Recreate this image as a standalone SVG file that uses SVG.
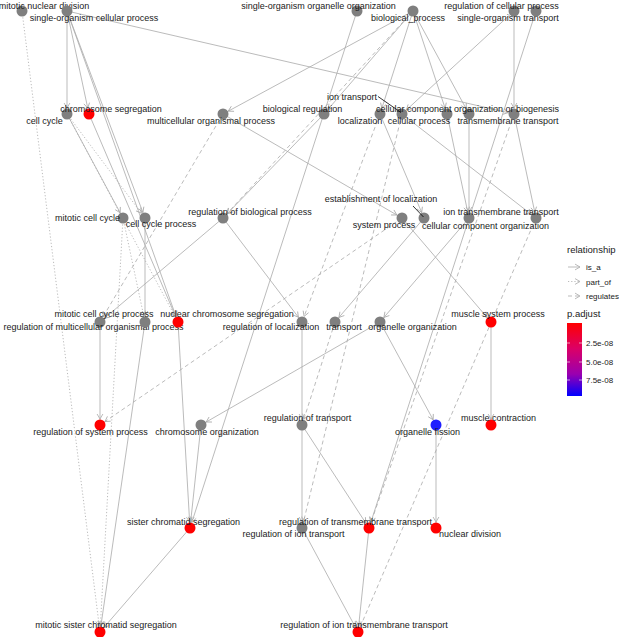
<svg xmlns="http://www.w3.org/2000/svg" width="619" height="637" viewBox="0 0 619 637">
<style>
  .e{fill:none;stroke:#a9a9a9;stroke-width:0.8;marker-end:url(#arr)}
  .p{stroke-dasharray:1.2 2}
  .r{stroke-dasharray:4 3}
  .g{fill:#7f7f7f}
  .red{fill:#ff0000}
  .blue{fill:#1e1eff}
  text{font-family:"Liberation Sans",Arial,sans-serif;font-size:9px;fill:#1a1a1a}
  .m{text-anchor:middle}
  .seg{stroke:#000;stroke-width:0.8}
  .lg{font-size:8px}
</style>
<defs>
  <marker id="arr" markerUnits="userSpaceOnUse" viewBox="-1 -1 14 8" markerWidth="14" markerHeight="8" refX="11" refY="2.9" orient="auto" overflow="visible">
    <path d="M0,0 L5,2.9 L0,5.8" fill="none" stroke="#a9a9a9" stroke-width="0.8"/>
  </marker>
  <marker id="arrL" markerUnits="userSpaceOnUse" viewBox="-1 -1 8 8" markerWidth="8" markerHeight="8" refX="5" refY="2.9" orient="auto" overflow="visible">
    <path d="M0,0 L5,2.9 L0,5.8" fill="none" stroke="#a9a9a9" stroke-width="0.8"/>
  </marker>
  <linearGradient id="pg" x1="0" y1="0" x2="0" y2="1">
    <stop offset="0" stop-color="#ff0000"/>
    <stop offset="0.35" stop-color="#dc0066"/>
    <stop offset="0.7" stop-color="#9a00b0"/>
    <stop offset="1" stop-color="#0000ff"/>
  </linearGradient>
</defs>
<rect width="619" height="637" fill="#ffffff"/>
<g id="edges">
  <line class="e p" x1="22" y1="11" x2="100" y2="632"/>
  <line class="e" x1="67" y1="11" x2="67" y2="114"/>
  <line class="e" x1="67" y1="11" x2="89" y2="114"/>
  <line class="e" x1="67" y1="11" x2="514" y2="114"/>
  <line class="e" x1="67" y1="11" x2="145" y2="218"/>
  <line class="e" x1="67" y1="11" x2="178" y2="322"/>
  <line class="e" x1="357" y1="11" x2="190" y2="528"/>
  <line class="e" x1="413" y1="11" x2="223" y2="114"/>
  <line class="e" x1="413" y1="11" x2="324" y2="114"/>
  <line class="e" x1="413" y1="11" x2="380" y2="114"/>
  <line class="e" x1="413" y1="11" x2="447" y2="114"/>
  <line class="e" x1="413" y1="11" x2="469" y2="114"/>
  <line class="e r" x1="413" y1="11" x2="223" y2="218"/>
  <line class="e" x1="536" y1="11" x2="369" y2="528"/>
  <line class="e" x1="514" y1="11" x2="514" y2="114"/>
  <line class="e" x1="514" y1="11" x2="402" y2="114"/>
  <line class="e" x1="67" y1="114" x2="123" y2="218"/>
  <line class="e p" x1="67" y1="114" x2="145" y2="218"/>
  <line class="e p" x1="67" y1="114" x2="178" y2="322"/>
  <line class="e" x1="89" y1="114" x2="178" y2="322"/>
  <line class="e" x1="223" y1="114" x2="402" y2="218"/>
  <line class="e r" x1="223" y1="114" x2="100" y2="322"/>
  <line class="e" x1="324" y1="114" x2="223" y2="218"/>
  <line class="e" x1="380" y1="114" x2="424" y2="218"/>
  <line class="e r" x1="380" y1="114" x2="302" y2="322"/>
  <line class="e" x1="402" y1="114" x2="536" y2="218"/>
  <line class="e r" x1="402" y1="114" x2="302" y2="528"/>
  <line class="e" x1="447" y1="114" x2="469" y2="218"/>
  <line class="e" x1="469" y1="114" x2="469" y2="218"/>
  <line class="e" x1="514" y1="114" x2="536" y2="218"/>
  <line class="e r" x1="514" y1="114" x2="369" y2="528"/>
  <line class="e p" x1="123" y1="218" x2="145" y2="322"/>
  <line class="e p" x1="123" y1="218" x2="100" y2="632"/>
  <line class="e" x1="145" y1="218" x2="145" y2="322"/>
  <line class="e" x1="223" y1="218" x2="100" y2="322"/>
  <line class="e" x1="223" y1="218" x2="302" y2="322"/>
  <line class="e" x1="424" y1="218" x2="335" y2="322"/>
  <line class="e" x1="402" y1="218" x2="491" y2="322"/>
  <line class="e r" x1="402" y1="218" x2="100" y2="425"/>
  <line class="e" x1="469" y1="218" x2="380" y2="322"/>
  <line class="e r" x1="536" y1="218" x2="358" y2="632"/>
  <line class="e" x1="100" y1="322" x2="100" y2="425"/>
  <line class="e" x1="145" y1="322" x2="100" y2="632"/>
  <line class="e" x1="178" y1="322" x2="190" y2="528"/>
  <line class="e" x1="302" y1="322" x2="302" y2="425"/>
  <line class="e r" x1="335" y1="322" x2="302" y2="425"/>
  <line class="e" x1="380" y1="322" x2="201" y2="425"/>
  <line class="e" x1="380" y1="322" x2="436" y2="425"/>
  <line class="e" x1="491" y1="322" x2="491" y2="425"/>
  <line class="e" x1="201" y1="425" x2="190" y2="528"/>
  <line class="e" x1="302" y1="425" x2="302" y2="528"/>
  <line class="e" x1="302" y1="425" x2="369" y2="528"/>
  <line class="e" x1="436" y1="425" x2="436" y2="528"/>
  <line class="e" x1="190" y1="528" x2="100" y2="632"/>
  <line class="e" x1="302" y1="528" x2="358" y2="632"/>
  <line class="e" x1="369" y1="528" x2="358" y2="632"/>
</g>
<g id="n-mitotic-nuclear-division"><circle class="g" cx="22" cy="11" r="5.5"/><text class="m" x="44" y="8.5">mitotic nuclear division</text></g>
<g id="n-single-organism-cellular-process"><circle class="g" cx="67" cy="11" r="5.5"/><text class="m" x="94" y="20.5">single-organism cellular process</text></g>
<g id="n-single-organism-organelle-organization"><circle class="g" cx="357" cy="11" r="5.5"/><text class="m" x="318.5" y="8.5">single-organism organelle organization</text></g>
<g id="n-biological-process"><circle class="g" cx="413" cy="11" r="5.5"/><text class="m" x="408" y="20.5">biological_process</text></g>
<g id="n-single-organism-transport"><circle class="g" cx="514" cy="11" r="5.5"/><text class="m" x="508" y="20.5">single-organism transport</text></g>
<g id="n-regulation-of-cellular-process"><circle class="g" cx="536" cy="11" r="5.5"/><text class="m" x="501.5" y="8.5">regulation of cellular process</text></g>
<g id="n-cell-cycle"><circle class="g" cx="67" cy="114" r="5.5"/><text class="m" x="44.5" y="123.5">cell cycle</text></g>
<g id="n-chromosome-segregation"><circle class="red" cx="89" cy="114" r="5.5"/><text class="m" x="111" y="111.5">chromosome segregation</text></g>
<g id="n-multicellular-organismal-process"><circle class="g" cx="223" cy="114" r="5.5"/><text class="m" x="211" y="123.5">multicellular organismal process</text></g>
<g id="n-biological-regulation"><circle class="g" cx="324" cy="114" r="5.5"/><text class="m" x="302.5" y="111.5">biological regulation</text></g>
<g id="n-localization"><circle class="g" cx="380" cy="114" r="5.5"/><text class="m" x="360" y="123.5">localization</text></g>
<g id="n-ion-transport"><circle class="g" cx="402" cy="114" r="5.5"/><line class="seg" x1="378" y1="96.5" x2="401" y2="112.5"/><text class="m" x="352" y="99.5">ion transport</text></g>
<g id="n-cellular-process"><circle class="g" cx="447" cy="114" r="5.5"/><text class="m" x="419" y="123.5">cellular process</text></g>
<g id="n-transmembrane-transport"><circle class="g" cx="514" cy="114" r="5.5"/><text class="m" x="508" y="123.5">transmembrane transport</text></g>
<g id="n-cellular-component-organization-or-biogenesis"><circle class="g" cx="469" cy="114" r="5.5"/><text class="m" x="467.5" y="111.5">cellular component organization or biogenesis</text></g>
<g id="n-mitotic-cell-cycle"><circle class="g" cx="123" cy="218" r="5.5"/><text class="m" x="87.5" y="220.5">mitotic cell cycle</text></g>
<g id="n-cell-cycle-process"><circle class="g" cx="145" cy="218" r="5.5"/><text class="m" x="161" y="227">cell cycle process</text></g>
<g id="n-regulation-of-biological-process"><circle class="g" cx="223" cy="218" r="5.5"/><text class="m" x="250" y="215">regulation of biological process</text></g>
<g id="n-system-process"><circle class="g" cx="402" cy="218" r="5.5"/><text class="m" x="384" y="228">system process</text></g>
<g id="n-establishment-of-localization"><circle class="g" cx="424" cy="218" r="5.5"/><line class="seg" x1="413" y1="206" x2="423.5" y2="217"/><text class="m" x="381" y="202">establishment of localization</text></g>
<g id="n-cellular-component-organization"><circle class="g" cx="469" cy="218" r="5.5"/><text class="m" x="485.5" y="229">cellular component organization</text></g>
<g id="n-ion-transmembrane-transport"><circle class="g" cx="536" cy="218" r="5.5"/><text class="m" x="501" y="215">ion transmembrane transport</text></g>
<g id="n-regulation-of-multicellular-organismal-process"><circle class="g" cx="100" cy="322" r="5.5"/><text class="m" x="93.5" y="329.5">regulation of multicellular organismal process</text></g>
<g id="n-mitotic-cell-cycle-process"><circle class="g" cx="145" cy="322" r="5.5"/><text class="m" x="104" y="317">mitotic cell cycle process</text></g>
<g id="n-nuclear-chromosome-segregation"><circle class="red" cx="178" cy="322" r="5.5"/><text class="m" x="227" y="317">nuclear chromosome segregation</text></g>
<g id="n-regulation-of-localization"><circle class="g" cx="302" cy="322" r="5.5"/><text class="m" x="271" y="329.5">regulation of localization</text></g>
<g id="n-transport"><circle class="g" cx="335" cy="322" r="5.5"/><text class="m" x="344" y="329.5">transport</text></g>
<g id="n-organelle-organization"><circle class="g" cx="380" cy="322" r="5.5"/><text class="m" x="412.5" y="329.5">organelle organization</text></g>
<g id="n-muscle-system-process"><circle class="red" cx="491" cy="322" r="5.5"/><text class="m" x="498" y="317">muscle system process</text></g>
<g id="n-regulation-of-system-process"><circle class="red" cx="100" cy="425" r="5.5"/><text class="m" x="90.5" y="435">regulation of system process</text></g>
<g id="n-chromosome-organization"><circle class="g" cx="201" cy="425" r="5.5"/><text class="m" x="207" y="435">chromosome organization</text></g>
<g id="n-regulation-of-transport"><circle class="g" cx="302" cy="425" r="5.5"/><text class="m" x="307.5" y="421">regulation of transport</text></g>
<g id="n-organelle-fission"><circle class="blue" cx="436" cy="425" r="5.5"/><text class="m" x="427.5" y="435">organelle fission</text></g>
<g id="n-muscle-contraction"><circle class="red" cx="491" cy="425" r="5.5"/><text class="m" x="498.5" y="421">muscle contraction</text></g>
<g id="n-sister-chromatid-segregation"><circle class="red" cx="190" cy="528" r="5.5"/><text class="m" x="183.5" y="525">sister chromatid segregation</text></g>
<g id="n-regulation-of-ion-transport"><circle class="g" cx="302" cy="528" r="5.5"/><text class="m" x="293.5" y="537">regulation of ion transport</text></g>
<g id="n-regulation-of-transmembrane-transport"><circle class="red" cx="369" cy="528" r="5.5"/><text class="m" x="355.5" y="525">regulation of transmembrane transport</text></g>
<g id="n-nuclear-division"><circle class="red" cx="436" cy="528" r="5.5"/><text class="m" x="470" y="537">nuclear division</text></g>
<g id="n-mitotic-sister-chromatid-segregation"><circle class="red" cx="100" cy="632" r="5.5"/><text class="m" x="106" y="628">mitotic sister chromatid segregation</text></g>
<g id="n-regulation-of-ion-transmembrane-transport"><circle class="red" cx="358" cy="632" r="5.5"/><text class="m" x="364" y="628">regulation of ion transmembrane transport</text></g>
<g id="legend">
  <text x="567" y="253" style="font-size:9.5px">relationship</text>
  <line x1="568" y1="267" x2="580" y2="267" stroke="#a9a9a9" stroke-width="0.8" marker-end="url(#arrL)"/>
  <text class="lg" x="586" y="270">is_a</text>
  <line x1="568" y1="281.5" x2="580" y2="281.5" stroke="#a9a9a9" stroke-width="0.8" stroke-dasharray="1.2 2" marker-end="url(#arrL)"/>
  <text class="lg" x="586" y="284.5">part_of</text>
  <line x1="568" y1="296" x2="580" y2="296" stroke="#a9a9a9" stroke-width="0.8" stroke-dasharray="4 3" marker-end="url(#arrL)"/>
  <text class="lg" x="586" y="299">regulates</text>
  <text x="567" y="317" style="font-size:9.5px">p.adjust</text>
  <rect x="567" y="323" width="15" height="73" fill="url(#pg)"/>
  <g stroke="#ffffff" stroke-width="0.6">
    <line x1="567" y1="343" x2="570" y2="343"/><line x1="579" y1="343" x2="582" y2="343"/>
    <line x1="567" y1="362" x2="570" y2="362"/><line x1="579" y1="362" x2="582" y2="362"/>
    <line x1="567" y1="380" x2="570" y2="380"/><line x1="579" y1="380" x2="582" y2="380"/>
  </g>
  <text class="lg" x="586" y="346">2.5e-08</text>
  <text class="lg" x="586" y="365">5.0e-08</text>
  <text class="lg" x="586" y="383">7.5e-08</text>
</g>
</svg>
